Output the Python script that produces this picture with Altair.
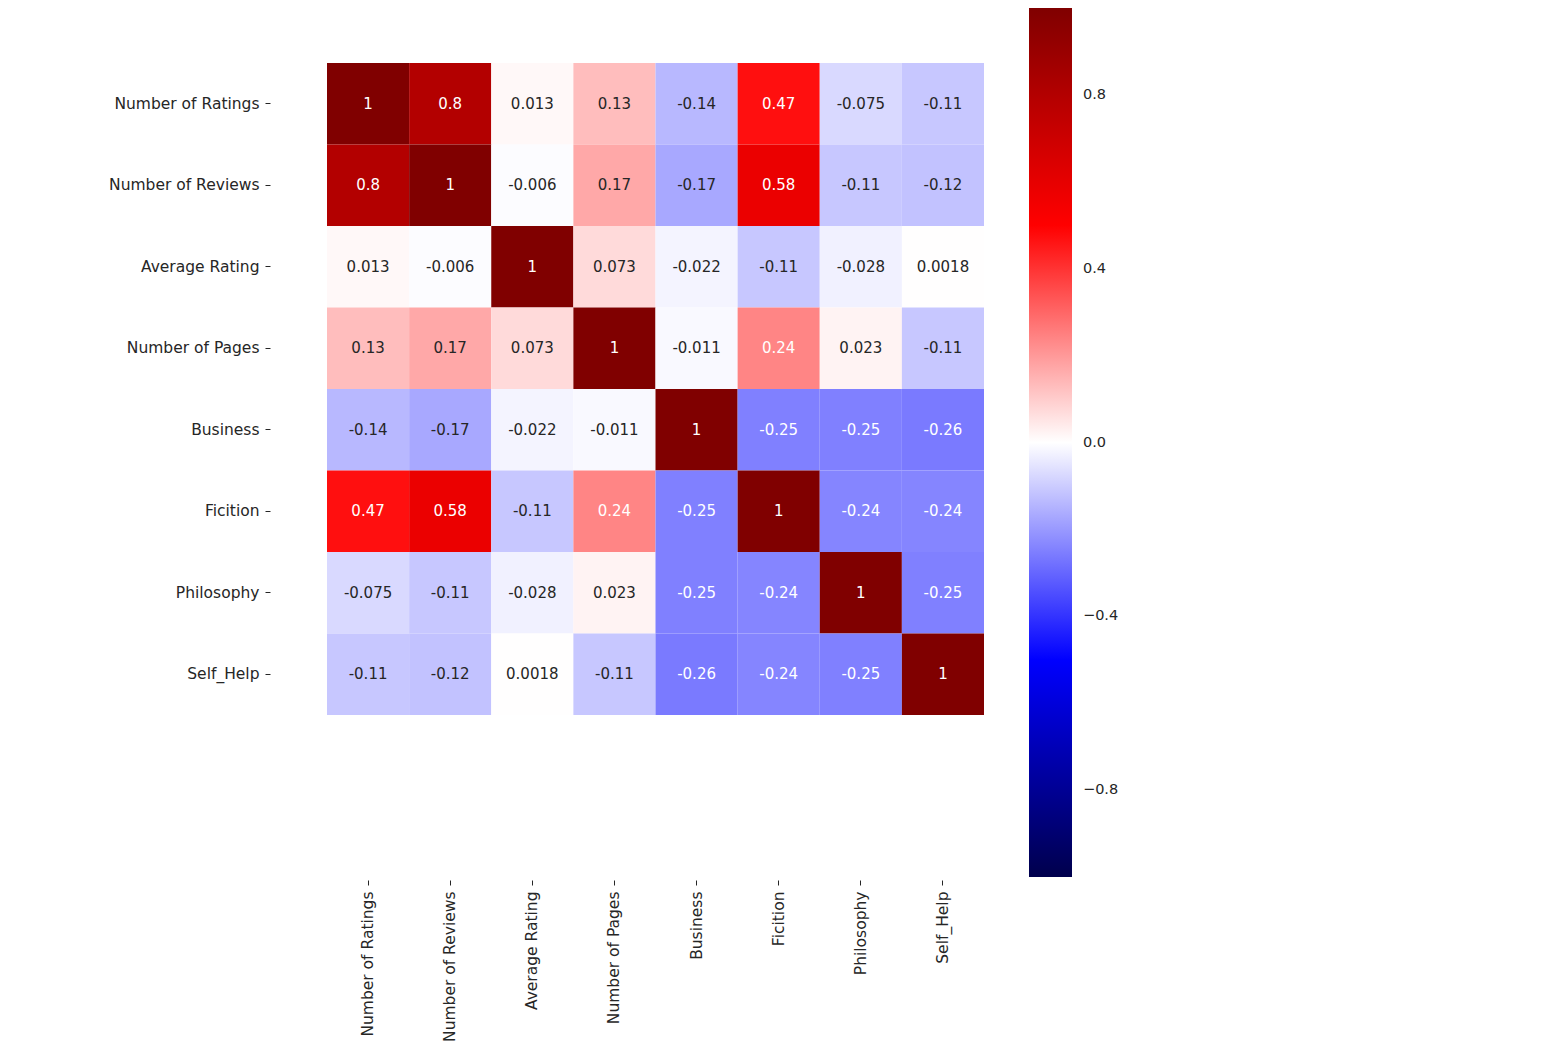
import altair as alt
import pandas as pd

labels = ["Number of Ratings", "Number of Reviews", "Average Rating", "Number of Pages",
          "Business", "Ficition", "Philosophy", "Self_Help"]

row_ratings = [1, 0.8, 0.013, 0.13, -0.14, 0.47, -0.075, -0.11]
row_reviews = [0.8, 1, -0.006, 0.17, -0.17, 0.58, -0.11, -0.12]
row_avg = [0.013, -0.006, 1, 0.073, -0.022, -0.11, -0.028, 0.0018]
row_pages = [0.13, 0.17, 0.073, 1, -0.011, 0.24, 0.023, -0.11]
row_business = [-0.14, -0.17, -0.022, -0.011, 1, -0.25, -0.25, -0.26]
row_fiction = [0.47, 0.58, -0.11, 0.24, -0.25, 1, -0.24, -0.24]
row_philosophy = [-0.075, -0.11, -0.028, 0.023, -0.25, -0.24, 1, -0.25]
row_selfhelp = [-0.11, -0.12, 0.0018, -0.11, -0.26, -0.24, -0.25, 1]

matrix = [row_ratings, row_reviews, row_avg, row_pages,
          row_business, row_fiction, row_philosophy, row_selfhelp]

records = []
for i, rname in enumerate(labels):
    for j, cname in enumerate(labels):
        v = matrix[i][j]
        records.append({"row": rname, "col": cname, "value": v,
                        "text": format(v, ".2g")})
df = pd.DataFrame(records)

FONT = "DejaVu Sans"

color_scale = alt.Scale(domain=[-1, -0.5, 0, 0.5, 1],
                        range=["#00004c", "#0000ff", "#ffffff", "#ff0000", "#800000"],
                        interpolate="rgb")

x_enc = alt.X("col:N", sort=labels, title=None,
              scale=alt.Scale(paddingInner=0, paddingOuter=0),
              axis=alt.Axis(orient="bottom", labelAngle=270, offset=165, domain=False,
                            tickSize=5, tickColor="#262626", labelPadding=6,
                            labelFont=FONT, labelFontSize=15.5, labelColor="#262626"))
y_enc = alt.Y("row:N", sort=labels, title=None,
              scale=alt.Scale(paddingInner=0, paddingOuter=0),
              axis=alt.Axis(orient="left", offset=57, domain=False,
                            tickSize=5, tickColor="#262626", labelPadding=6,
                            labelFont=FONT, labelFontSize=15.5, labelColor="#262626"))

base = alt.Chart(df)

rects = base.mark_rect(strokeWidth=0).encode(
    x=x_enc,
    y=y_enc,
    color=alt.Color("value:Q", scale=color_scale, title=None,
                    legend=alt.Legend(orient="none", legendX=702, legendY=-55,
                                      direction="vertical", gradientLength=869,
                                      gradientThickness=43, gradientStrokeWidth=0,
                                      values=[-0.8, -0.4, 0.0, 0.4, 0.8], format=".1f",
                                      labelFont=FONT, labelFontSize=14.5,
                                      labelColor="#262626", labelOffset=11,
                                      labelOverlap=False)),
)

texts = base.mark_text(font=FONT, fontSize=15).encode(
    x=alt.X("col:N", sort=labels),
    y=alt.Y("row:N", sort=labels),
    text="text:N",
    color=alt.condition("datum.value > 0.23 || datum.value < -0.18",
                        alt.value("#ffffff"), alt.value("#262626")),
)

chart = alt.layer(rects, texts).properties(
    width=657, height=652,
    autosize=alt.AutoSizeParams(type="none"),
    padding={"left": 327, "top": 63, "right": 567, "bottom": 340},
    background="white",
).configure_view(stroke=None)

chart.save("out.html", embed_options={"renderer": "svg", "actions": False})
